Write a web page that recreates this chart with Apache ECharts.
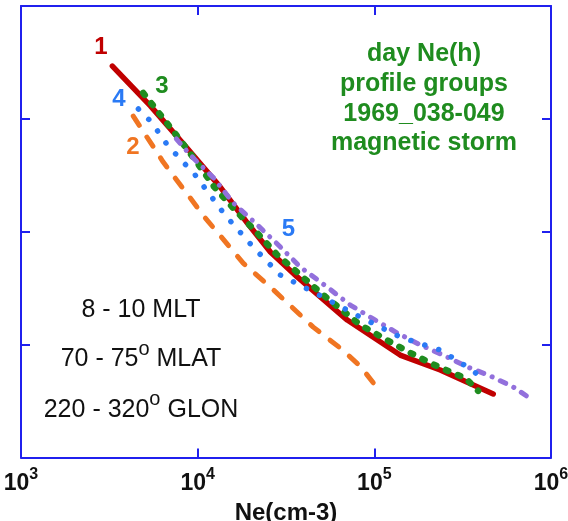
<!DOCTYPE html>
<html>
<head>
<meta charset="utf-8">
<script src="https://cdn.jsdelivr.net/npm/echarts@6/dist/echarts.min.js"></script>
<style>
  html, body { margin: 0; padding: 0; background: #ffffff; }
  #chart { width: 568px; height: 521px; }
</style>
</head>
<body>
<div id="chart"></div>
<script>
// Decade exponents used for the Ne tick labels (10^3 ... 10^6)
const decadeExponents = [3, 4, 5, 6];

// Profile 1 (day group, solid)
const ne1 = [3290, 5400, 8510, 13400, 19100, 25800, 36600, 70300, 140000, 236000, 471000];
const h1  = [1387, 1246, 1104, 959, 831, 728, 640, 487, 363, 310, 225];

// Profile 2 (dashed)
const ne2 = [4320, 6380, 11040, 18100, 25800, 45100, 64100, 83200, 107000];
const h2  = [1210, 1047, 849, 689, 604, 462, 388, 324, 236];

// Profile 3 (round dots)
const ne3 = [4920, 6230, 7870, 9950, 12400, 15900, 21700, 28200, 38100, 51400, 83200, 118000, 153000, 207000, 279000, 327000, 387000];
const h3  = [1292, 1210, 1129, 1044, 959, 884, 796, 718, 647, 576, 470, 416, 377, 335, 299, 282, 236];

// Profile 4 (fine dots)
const ne4 = [4620, 5450, 6730, 9680, 14300, 20600, 29300, 46300, 83200, 140000, 236000, 336000, 403000];
const h4  = [1235, 1190, 1108, 1001, 859, 746, 647, 583, 498, 427, 381, 321, 285];

// Profile 5 (dash-dot)
const ne5 = [7570, 9080, 12300, 15900, 21200, 29400, 38100, 54100, 73100, 98600, 135000, 182000, 245000, 336000, 453000, 611000, 743000];
const h5  = [1129, 1072, 991, 902, 831, 746, 675, 604, 540, 491, 441, 399, 363, 321, 289, 250, 214];

// Altitude axis (km): ticks every 400 km
const hMin = 0, hMax = 1600, hStep = 400;

const FONT = "'Liberation Sans', Arial, Helvetica, sans-serif";
const AXIS = '#2020ee';
const RED = '#c00000', ORANGE = '#f07522', GREEN = '#1f8c1f', BLUE = '#2a7af5', PURPLE = '#9270dc';

const pairs = (xs, ys) => xs.map((v, i) => [v, ys[i]]);

// superscript exponent for a decade tick value
const decadeLabel = (v) => {
  const e = Math.round(Math.log10(v));
  const exp = decadeExponents.indexOf(e) >= 0 ? e : '';
  return '{b|10}{s|' + exp + '}';
};

const frameAxisCommon = {
  axisLine: { show: true, onZero: false, lineStyle: { color: AXIS, width: 2 } },
  axisTick: { show: true, inside: true, length: 9, lineStyle: { color: AXIS, width: 2 } },
  splitLine: { show: false },
  minorTick: { show: false }
};

const chart = echarts.init(document.getElementById('chart'), null, { renderer: 'canvas' });

chart.setOption({
  animation: false,
  backgroundColor: '#ffffff',
  grid: { left: 21, right: 17, top: 6, bottom: 63.5, containLabel: false, outerBoundsMode: 'none' },
  xAxis: [
    Object.assign({
      type: 'log', logBase: 10, min: 1000, max: 1000000, position: 'bottom',
      axisLabel: {
        show: true, margin: 9, showMinLabel: true, showMaxLabel: true,
        formatter: decadeLabel,
        rich: {
          b: { fontFamily: FONT, fontWeight: 'bold', fontSize: 23, color: '#111', lineHeight: 34 },
          s: { fontFamily: FONT, fontWeight: 'bold', fontSize: 16, color: '#111', lineHeight: 17, verticalAlign: 'top' }
        }
      },
      name: 'Ne(cm-3)', nameLocation: 'middle', nameGap: 33,
      nameTextStyle: { fontFamily: FONT, fontWeight: 'bold', fontSize: 24, color: '#111', lineHeight: 26 }
    }, frameAxisCommon),
    Object.assign({
      type: 'log', logBase: 10, min: 1000, max: 1000000, position: 'top',
      axisLabel: { show: false }
    }, frameAxisCommon)
  ],
  yAxis: [
    Object.assign({
      type: 'value', min: hMin, max: hMax, interval: hStep, position: 'left',
      axisLabel: { show: false }
    }, frameAxisCommon),
    Object.assign({
      type: 'value', min: hMin, max: hMax, interval: hStep, position: 'right',
      axisLabel: { show: false }
    }, frameAxisCommon)
  ],
  series: [
    {
      name: '1', type: 'line', data: pairs(ne1, h1), symbol: 'none', smooth: false,
      lineStyle: { color: RED, width: 5.5, cap: 'round', join: 'round' }, z: 2
    },
    {
      name: '2', type: 'line', data: pairs(ne2, h2), symbol: 'none', smooth: false,
      lineStyle: { color: ORANGE, width: 5, type: [11, 14], cap: 'round', join: 'round' }, z: 2
    },
    {
      name: '3', type: 'line', data: pairs(ne3, h3), symbol: 'none', smooth: false,
      lineStyle: { color: GREEN, width: 6.5, type: [2.5, 10.5], cap: 'round', join: 'round' }, z: 3
    },
    {
      name: '5', type: 'line', data: pairs(ne5, h5), symbol: 'none', smooth: false,
      lineStyle: { color: PURPLE, width: 5, type: [6, 9, 0.1, 9], cap: 'round', join: 'round' }, z: 3
    },
    {
      name: '4', type: 'line', data: pairs(ne4, h4), symbol: 'none', smooth: false,
      lineStyle: { color: BLUE, width: 5.5, type: [0.1, 14.5], cap: 'round', join: 'round' }, z: 3
    }
  ],
  graphic: [
    // profile numbers
    { type: 'text', x: 101, y: 47.5, style: { text: '1', fill: RED, font: 'bold 24px ' + FONT, align: 'center', verticalAlign: 'middle' } },
    { type: 'text', x: 133, y: 147.5, style: { text: '2', fill: ORANGE, font: 'bold 24px ' + FONT, align: 'center', verticalAlign: 'middle' } },
    { type: 'text', x: 162, y: 86, style: { text: '3', fill: GREEN, font: 'bold 24px ' + FONT, align: 'center', verticalAlign: 'middle' } },
    { type: 'text', x: 119, y: 99, style: { text: '4', fill: BLUE, font: 'bold 24px ' + FONT, align: 'center', verticalAlign: 'middle' } },
    { type: 'text', x: 288.5, y: 229.5, style: { text: '5', fill: BLUE, font: 'bold 24px ' + FONT, align: 'center', verticalAlign: 'middle' } },
    // group description
    {
      type: 'text', x: 424, y: 99,
      style: {
        text: 'day Ne(h)\nprofile groups\n1969_038-049\nmagnetic storm',
        fill: GREEN, font: 'bold 25px ' + FONT, lineHeight: 29.7,
        align: 'center', verticalAlign: 'middle'
      }
    },
    // selection window
    {
      type: 'text', x: 141, y: 310,
      style: { text: '8 - 10 MLT', fill: '#111', font: '25px ' + FONT, align: 'center', verticalAlign: 'middle' }
    },
    {
      type: 'text', x: 141, y: 359,
      style: {
        text: '{a|70 - 75}{s|o}{a| MLAT}', align: 'center', verticalAlign: 'middle',
        rich: {
          a: { fontFamily: FONT, fontSize: 25, fill: '#111', color: '#111', lineHeight: 40 },
          s: { fontFamily: FONT, fontSize: 20, fill: '#111', color: '#111', lineHeight: 20, verticalAlign: 'top' }
        }
      }
    },
    {
      type: 'text', x: 141, y: 409.7,
      style: {
        text: '{a|220 - 320}{s|o}{a| GLON}', align: 'center', verticalAlign: 'middle',
        rich: {
          a: { fontFamily: FONT, fontSize: 25, fill: '#111', color: '#111', lineHeight: 40 },
          s: { fontFamily: FONT, fontSize: 20, fill: '#111', color: '#111', lineHeight: 20, verticalAlign: 'top' }
        }
      }
    }
  ]
});
</script>
</body>
</html>
